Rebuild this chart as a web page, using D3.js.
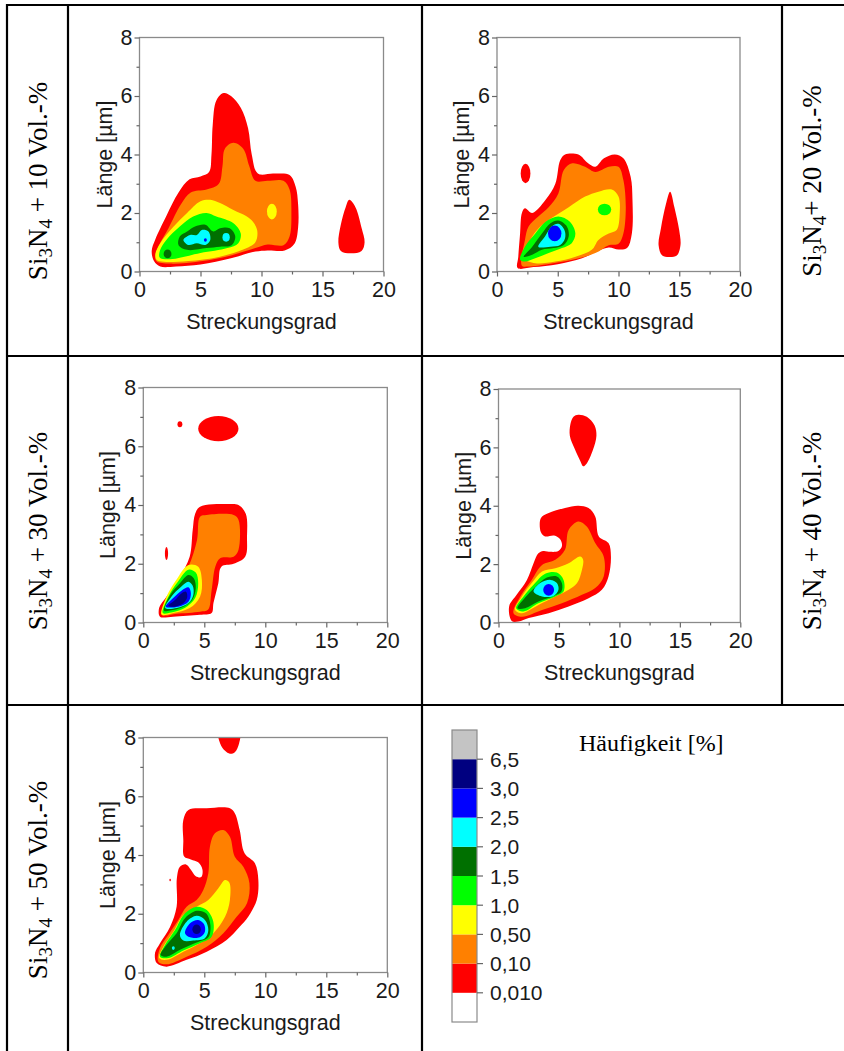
<!DOCTYPE html>
<html><head><meta charset="utf-8">
<script src="https://cdn.jsdelivr.net/npm/d3@7"></script>
<style>body{margin:0;background:#fff}svg{display:block}</style>
</head><body>
<svg id="c" width="844" height="1051"></svg>
<script>
// ---------- data ----------
const levelLabels = ["0,010","0,10","0,50","1,0","1,5","2,0","2,5","3,0","6,5"];
const levelColors = ["#ffffff","#ff0000","#ff8000","#ffff00","#00ff00","#007000","#00ffff","#0000ff","#000080","#c4c4c4"];
const xTicks = [0,5,10,15,20];
const yTicks = [0,2,4,6,8];
const xMinor = [2.5,7.5,12.5,17.5];
const yMinor = [1,3,5,7];
const xTitle = "Streckungsgrad";
const yTitle = "Länge [µm]";
const legendTitle = "Häufigkeit [%]";
const rowLabelNums = ["10","20","30","40","50"];

// contour polygons: [levelIndex, [[Streckungsgrad, Länge], ...]]
const p1Contours = [
 [1, [[1.2,0.35],[1.7,0.17],[3.0,0.17],[5.0,0.24],[7.5,0.45],[9.5,0.68],[10.5,0.72],[11.9,0.72],[12.7,0.95],[13.0,1.5],[13.0,2.3],[12.8,2.9],[12.3,3.3],[11.0,3.35],[9.7,3.35],[9.2,4.0],[8.9,4.9],[8.3,5.6],[7.5,6.0],[6.9,6.1],[6.3,5.85],[6.0,5.0],[5.9,4.0],[5.7,3.4],[5.0,3.25],[4.1,3.15],[3.2,2.7],[2.2,1.9],[1.3,1.1],[1.0,0.7]]],
 [1, [[17.2,2.45],[17.7,2.2],[18.2,1.5],[18.45,1.0],[18.2,0.7],[17.3,0.62],[16.5,0.7],[16.3,1.0],[16.5,1.6],[16.9,2.2]]],
 [2, [[1.4,0.35],[2.5,0.27],[5.0,0.35],[7.5,0.55],[9.5,0.8],[10.5,0.92],[11.8,0.9],[12.3,1.2],[12.45,2.0],[12.3,2.8],[11.8,3.1],[10.5,3.1],[9.5,3.1],[9.0,3.6],[8.5,4.2],[7.7,4.4],[7.0,4.2],[6.8,3.6],[6.5,3.0],[5.5,2.8],[4.2,2.7],[3.4,2.3],[2.4,1.5],[1.6,0.9],[1.3,0.55]]],
 [3, [[1.4,0.4],[2.0,0.33],[4.0,0.36],[6.5,0.5],[8.5,0.75],[9.5,1.0],[9.65,1.4],[9.3,1.7],[8.8,1.88],[7.7,2.1],[6.6,2.34],[5.8,2.45],[5.0,2.4],[3.9,2.0],[2.8,1.54],[1.7,0.97],[1.3,0.6]]],
 [4, [[1.65,0.48],[2.5,0.42],[5.0,0.63],[7.2,0.8],[8.1,0.97],[8.3,1.3],[7.7,1.65],[6.3,1.88],[5.5,2.0],[4.4,1.88],[3.3,1.54],[2.2,1.08],[1.7,0.74]]],
 [5, [[3.2,0.9],[3.9,0.74],[5.5,0.8],[6.6,0.85],[7.55,0.9],[7.85,1.2],[7.4,1.48],[6.6,1.48],[6.05,1.37],[5.4,1.6],[4.55,1.54],[3.9,1.37],[3.3,1.2]]],
 [6, [[3.6,1.08],[4.0,0.91],[4.7,0.97],[5.4,0.91],[5.8,1.08],[5.65,1.37],[5.1,1.42],[4.7,1.25],[4.15,1.25]]]
];
// ellipse blobs: [levelIndex, cx, cy, rx, ry]
const p1Blobs = [[3,10.85,2.05,0.4,0.27],[5,2.3,0.6,0.32,0.15],[6,7.1,1.17,0.3,0.15],[7,5.4,1.08,0.12,0.06]];

const p2Contours = [
 [1, [[1.7,0.12],[3.0,0.15],[5.0,0.25],[7.0,0.45],[8.3,0.7],[9.2,0.82],[10.0,0.75],[10.7,0.8],[11.1,1.3],[11.15,2.45],[11.0,3.24],[10.4,3.87],[9.7,4.0],[8.8,3.87],[8.1,3.58],[7.5,3.7],[6.7,4.0],[5.6,4.0],[5.2,3.8],[4.8,3.0],[4.0,2.45],[2.9,2.0],[2.3,2.16],[2.05,2.0],[1.9,1.3],[1.75,0.5]]],
 [1, [[14.25,2.73],[14.6,2.2],[15.0,1.4],[15.1,0.9],[14.8,0.55],[14.2,0.5],[13.6,0.55],[13.3,0.9],[13.5,1.5],[13.9,2.3]]],
 [2, [[2.05,0.2],[2.6,0.17],[4.25,0.26],[6.2,0.4],[8.1,0.63],[9.2,0.9],[10.0,0.95],[10.4,1.3],[10.6,2.2],[10.4,3.13],[10.0,3.58],[9.2,3.58],[8.1,3.4],[7.25,3.58],[6.2,3.7],[5.5,3.47],[5.05,2.67],[4.25,2.2],[3.4,1.88],[2.6,1.54],[2.3,1.08]]],
 [3, [[2.2,0.45],[3.15,0.28],[4.8,0.34],[6.4,0.5],[7.8,0.74],[8.35,1.08],[9.2,1.3],[9.85,1.42],[10.1,2.0],[10.0,2.56],[9.45,2.8],[8.35,2.73],[7.25,2.56],[5.9,2.2],[4.25,1.76],[3.3,1.42],[2.6,0.97]]],
 [4, [[1.9,0.4],[2.3,0.34],[3.15,0.45],[4.25,0.63],[5.35,0.8],[6.15,0.97],[6.45,1.3],[6.0,1.7],[5.05,1.88],[4.0,1.7],[3.15,1.3],[2.3,0.85]]],
 [5, [[2.2,0.5],[2.9,0.57],[3.7,0.74],[4.65,0.8],[5.5,0.91],[5.9,1.2],[5.75,1.54],[5.05,1.74],[4.4,1.65],[3.7,1.3],[2.9,0.85]]],
 [6, [[3.4,0.85],[4.4,0.85],[5.2,0.91],[5.6,1.14],[5.55,1.42],[5.05,1.63],[4.5,1.54],[3.95,1.2]]]
];
const p2Blobs = [[1,2.35,3.35,0.4,0.33],[4,8.85,2.12,0.55,0.2],[7,4.75,1.3,0.55,0.27]];

const p3Contours = [
 [1, [[1.37,0.2],[2.45,0.2],[4.65,0.26],[5.6,0.32],[5.75,0.66],[6.15,1.34],[6.4,1.9],[7.4,2.0],[8.35,2.24],[8.5,2.92],[8.4,3.7],[7.8,4.0],[6.85,4.03],[4.65,3.94],[4.25,3.7],[4.05,3.15],[3.8,2.24],[3.0,1.56],[1.9,0.88],[1.3,0.5]]],
 [2, [[1.64,0.26],[2.7,0.3],[4.65,0.37],[5.3,0.43],[5.6,1.1],[5.9,1.9],[6.3,2.19],[7.4,2.24],[7.8,2.47],[7.8,3.5],[7.4,3.66],[5.2,3.66],[4.65,3.6],[4.4,2.8],[3.7,1.9],[2.45,1.0]]],
 [3, [[1.5,0.26],[2.45,0.32],[3.8,0.49],[4.65,0.88],[4.8,1.45],[4.5,1.9],[3.7,1.96],[2.7,1.45],[1.9,0.88]]],
 [4, [[1.6,0.32],[2.3,0.34],[3.4,0.49],[4.25,0.83],[4.5,1.34],[4.3,1.7],[3.7,1.8],[2.85,1.4],[2.05,0.88]]],
 [5, [[1.7,0.4],[2.2,0.41],[3.15,0.51],[4.0,0.77],[4.3,1.17],[4.15,1.5],[3.7,1.62],[3.0,1.34],[2.2,0.94]]],
 [6, [[1.8,0.49],[2.75,0.49],[3.7,0.66],[4.1,0.94],[4.05,1.25],[3.7,1.39],[3.1,1.22],[2.3,0.88]]],
 [7, [[1.85,0.54],[2.85,0.54],[3.7,0.71],[3.9,1.0],[3.7,1.2],[3.2,1.11],[2.45,0.83]]],
 [8, [[2.05,0.57],[2.6,0.54],[3.3,0.66],[3.6,0.86],[3.5,1.05],[3.15,1.0],[2.6,0.77]]]
];
const p3Blobs = [[1,6.15,6.6,1.65,0.43],[1,3.0,6.75,0.2,0.1],[1,1.9,2.35,0.13,0.22]];

const p4Contours = [
 [1, [[1.1,0.05],[1.66,0.03],[2.5,0.15],[4.15,0.32],[5.8,0.55],[7.45,0.83],[8.55,1.12],[9.1,1.58],[9.3,2.26],[9.1,2.72],[8.3,2.95],[8.0,3.63],[7.45,3.92],[6.6,4.0],[5.5,3.92],[4.1,3.74],[3.5,3.57],[3.5,3.1],[3.85,2.95],[4.6,2.98],[5.1,2.85],[5.25,2.62],[4.95,2.45],[4.3,2.42],[3.7,2.45],[3.3,2.37],[2.9,2.03],[2.35,1.46],[1.5,0.95],[0.88,0.55]]],
 [1, [[6.6,7.12],[7.3,7.05],[7.95,6.75],[8.1,6.4],[7.8,5.9],[7.3,5.45],[7.0,5.35],[6.8,5.5],[6.3,5.95],[5.9,6.4],[5.95,6.8],[6.2,7.05]]],
 [2, [[1.24,0.32],[1.93,0.2],[3.6,0.43],[5.24,0.66],[6.9,0.95],[8.0,1.18],[8.7,1.58],[8.7,2.26],[8.0,2.72],[7.3,3.29],[6.6,3.46],[5.8,3.17],[5.5,2.49],[4.7,2.15],[3.6,1.97],[2.75,1.46],[1.8,0.89]]],
 [3, [[1.38,0.43],[1.93,0.32],[3.3,0.6],[4.7,0.89],[5.8,1.12],[6.5,1.35],[6.9,1.8],[7.0,2.15],[6.75,2.26],[5.8,2.03],[4.7,1.86],[3.6,1.75],[2.75,1.35],[1.93,0.89]]],
 [4, [[1.46,0.49],[2.07,0.38],[3.3,0.66],[4.7,0.89],[5.38,1.06],[5.38,1.46],[4.83,1.71],[3.86,1.67],[2.9,1.29],[2.07,0.89]]],
 [5, [[1.57,0.49],[2.2,0.49],[3.3,0.72],[4.55,0.91],[5.2,1.06],[5.24,1.35],[4.83,1.58],[4.0,1.54],[3.03,1.21],[2.2,0.86]]],
 [6, [[2.9,1.06],[3.6,0.89],[4.55,0.91],[4.96,1.12],[4.83,1.35],[4.3,1.46],[3.45,1.35]]]
];
const p4Blobs = [[7,4.15,1.12,0.45,0.2]];

const p5Contours = [
 [1, [[1.1,0.32],[1.9,0.2],[3.55,0.43],[5.2,0.71],[6.83,1.11],[7.9,1.56],[8.6,1.9],[9.3,2.47],[9.43,3.15],[9.15,3.72],[8.3,4.06],[7.9,4.85],[7.5,5.42],[7.1,5.59],[5.2,5.59],[3.7,5.53],[3.28,5.19],[3.28,4.5],[3.35,3.95],[3.9,3.85],[4.5,3.75],[4.85,3.5],[4.75,3.25],[4.3,3.28],[3.9,3.5],[3.5,3.68],[3.0,3.6],[2.75,3.2],[2.73,2.24],[2.2,1.56],[1.37,1.0],[0.96,0.66]]],
 [1, [[6.15,8.3],[7.9,8.3],[7.85,7.8],[7.5,7.5],[7.1,7.45],[6.7,7.55],[6.3,7.8]]],
 [2, [[1.23,0.37],[1.9,0.28],[3.55,0.54],[5.2,0.88],[6.56,1.34],[7.65,1.9],[8.5,2.36],[8.7,3.04],[8.2,3.6],[7.5,3.94],[7.1,4.62],[6.56,4.85],[5.87,4.74],[5.46,4.28],[5.33,3.38],[4.92,2.81],[4.37,2.47],[3.55,2.24],[2.87,1.79],[2.05,1.28],[1.37,0.83]]],
 [3, [[1.3,0.49],[1.9,0.43],[3.28,0.71],[4.64,1.0],[5.74,1.34],[6.7,1.9],[7.1,2.47],[7.05,3.06],[6.7,3.15],[6.15,2.87],[5.33,2.47],[4.37,2.24],[3.28,1.96],[2.46,1.39],[1.64,0.88]]],
 [4, [[1.37,0.54],[2.05,0.49],[3.28,0.75],[4.64,1.0],[5.6,1.22],[5.74,1.73],[5.2,2.13],[4.37,2.24],[3.42,2.02],[2.6,1.45],[1.78,0.94]]],
 [5, [[1.42,0.6],[1.9,0.54],[3.1,0.79],[4.37,1.02],[5.33,1.2],[5.5,1.62],[5.14,2.02],[4.37,2.1],[3.42,1.85],[2.73,1.34],[1.9,0.94]]],
 [6, [[3.0,1.28],[3.28,1.09],[4.1,1.09],[5.05,1.17],[5.33,1.45],[5.05,1.79],[4.37,1.93],[3.55,1.73]]],
 [7, [[3.42,1.34],[3.83,1.2],[4.64,1.2],[5.05,1.39],[4.97,1.65],[4.5,1.79],[3.83,1.68]]]
];
const p5Blobs = [[1,2.2,3.15,0.06,0.04],[6,2.46,0.83,0.12,0.06],[8,4.37,1.47,0.35,0.16]];

// ---------- layout ----------
const svg = d3.select("#c");
const SANS = "'Liberation Sans', Arial, sans-serif";
const SERIF = "'Liberation Serif', 'Times New Roman', serif";

const panels = [
 {x0:139.5, x1:383.5, y0:37.5, y1:271.5, c:p1Contours, b:p1Blobs},
 {x0:497, x1:740, y0:37.5, y1:271.5, c:p2Contours, b:p2Blobs},
 {x0:143.3, x1:387.3, y0:387.5, y1:622.5, c:p3Contours, b:p3Blobs},
 {x0:498.5, x1:740.3, y0:389, y1:622.5, c:p4Contours, b:p4Blobs},
 {x0:143.3, x1:387.3, y0:737.5, y1:972.5, c:p5Contours, b:p5Blobs}
];

panels.forEach((p, i) => {
  const x = d3.scaleLinear([0,20],[p.x0,p.x1]);
  const y = d3.scaleLinear([0,8],[p.y1,p.y0]);
  const g = svg.append("g");
  const cid = "clip"+i;
  g.append("clipPath").attr("id",cid).append("rect")
    .attr("x",p.x0).attr("y",p.y0).attr("width",p.x1-p.x0).attr("height",p.y1-p.y0);
  const plot = g.append("g").attr("clip-path",`url(#${cid})`);
  const line = d3.line().x(d=>x(d[0])).y(d=>y(d[1])).curve(d3.curveCatmullRomClosed.alpha(0.5));
  const items = [];
  p.c.forEach(c => items.push({lvl:c[0], kind:"poly", d:c[1]}));
  p.b.forEach(b => items.push({lvl:b[0], kind:"ell", d:b}));
  items.sort((a,b)=>a.lvl-b.lvl);
  items.forEach(it => {
    if (it.kind==="poly") {
      plot.append("path").attr("d", line(it.d)).attr("fill", levelColors[it.lvl]);
    } else {
      const [l,cx,cy,rx,ry] = it.d;
      plot.append("ellipse").attr("cx",x(cx)).attr("cy",y(cy))
        .attr("rx",x(rx)-x(0)).attr("ry",y(0)-y(ry)).attr("fill",levelColors[l]);
    }
  });
  // frame
  g.append("rect").attr("x",p.x0).attr("y",p.y0).attr("width",p.x1-p.x0).attr("height",p.y1-p.y0)
    .attr("fill","none").attr("stroke","#8a8a8a").attr("stroke-width",1.3);
  // axes
  const ax = g.append("g").attr("transform",`translate(0,${p.y1})`)
    .call(d3.axisBottom(x).tickValues(xTicks).tickSize(5).tickSizeOuter(0).tickPadding(5));
  const axm = g.append("g").attr("transform",`translate(0,${p.y1})`)
    .call(d3.axisBottom(x).tickValues(xMinor).tickSize(3).tickSizeOuter(0).tickFormat(""));
  const ay = g.append("g").attr("transform",`translate(${p.x0},0)`)
    .call(d3.axisLeft(y).tickValues(yTicks).tickSize(5).tickSizeOuter(0).tickPadding(2));
  const aym = g.append("g").attr("transform",`translate(${p.x0},0)`)
    .call(d3.axisLeft(y).tickValues(yMinor).tickSize(3).tickSizeOuter(0).tickFormat(""));
  [ax,axm,ay,aym].forEach(a => {
    a.select(".domain").remove();
    a.selectAll("line").attr("stroke","#666").attr("stroke-width",1.2);
    a.selectAll("text").attr("font-family",SANS).attr("font-size",21.5).attr("fill","#1a1a1a");
  });
  g.append("text").attr("x",(p.x0+p.x1)/2).attr("y",p.y1+57).attr("text-anchor","middle")
    .attr("font-family",SANS).attr("font-size",21.5).attr("fill","#1a1a1a").text(xTitle);
  g.append("text").attr("transform",`translate(${p.x0-28},${(p.y0+p.y1)/2}) rotate(-90)`)
    .attr("text-anchor","middle").attr("font-family",SANS).attr("font-size",21.5).attr("fill","#1a1a1a").text(yTitle);
});

// ---------- row labels ----------
function rowLabel(cx, cy, num, spaceBeforePlus) {
  const t = svg.append("text").attr("transform",`translate(${cx},${cy}) rotate(-90)`)
    .attr("text-anchor","middle").attr("font-family",SERIF).attr("font-size",27).attr("fill","#000");
  t.append("tspan").text("Si");
  t.append("tspan").attr("font-size",19).attr("dy",5).text("3");
  t.append("tspan").attr("dy",-5).text("N");
  t.append("tspan").attr("font-size",19).attr("dy",5).text("4");
  t.append("tspan").attr("dy",-5).text((spaceBeforePlus?" + ":"+ ") + num + " Vol.-%");
}
rowLabel(47, 181, rowLabelNums[0], true);
rowLabel(821, 181, rowLabelNums[1], false);
rowLabel(47, 531, rowLabelNums[2], true);
rowLabel(821, 531, rowLabelNums[3], true);
rowLabel(47, 880, rowLabelNums[4], true);

// ---------- legend ----------
const cb = d3.scaleLinear([0,levelColors.length],[1022,730]);
const leg = svg.append("g");
levelColors.forEach((c,i) => {
  leg.append("rect").attr("x",452).attr("y",cb(i+1)).attr("width",25).attr("height",cb(i)-cb(i+1)).attr("fill",c);
});
leg.append("rect").attr("x",452).attr("y",730).attr("width",25).attr("height",292)
  .attr("fill","none").attr("stroke","#8a8a8a").attr("stroke-width",1.2);
levelLabels.forEach((l,i) => {
  const yy = cb(i+1);
  leg.append("line").attr("x1",477).attr("x2",483).attr("y1",yy).attr("y2",yy).attr("stroke","#666").attr("stroke-width",1.2);
  leg.append("text").attr("x",490).attr("y",yy).attr("dy","0.36em").attr("font-family",SANS)
    .attr("font-size",21).attr("fill","#1a1a1a").text(l);
});
svg.append("text").attr("x",579).attr("y",750.5).attr("font-family",SERIF).attr("font-size",24).attr("fill","#000").text(legendTitle);

// ---------- table lines ----------
const tl = [[7,5,846,5],[7,4,7,1051],[68,4,68,1051],[422,4,422,1051],[782,4,782,706],[7,356,846,356],[7,705,846,705]];
tl.forEach(l => svg.append("line").attr("x1",l[0]).attr("y1",l[1]).attr("x2",l[2]).attr("y2",l[3])
  .attr("stroke","#000").attr("stroke-width",2.2));
</script>
</body></html>
